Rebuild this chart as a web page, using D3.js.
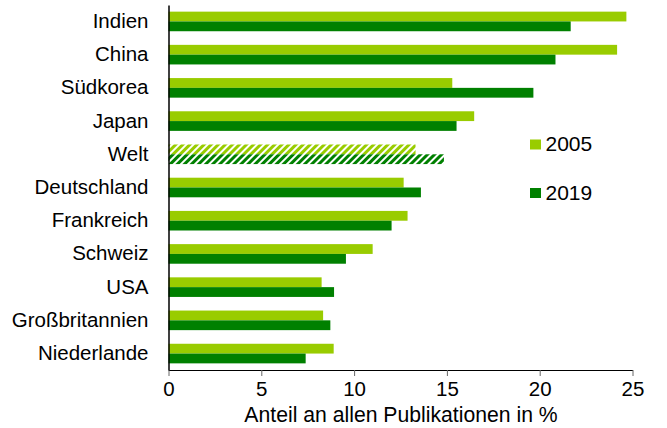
<!DOCTYPE html>
<html><head><meta charset="utf-8">
<script src="https://cdn.jsdelivr.net/npm/d3@7"></script>
<style>body{margin:0;background:#fff}svg{display:block;font-family:"Liberation Sans",Arial,sans-serif}</style>
</head><body><svg id="c" width="667" height="428"></svg>
<script>
const categories = ["Indien","China","Südkorea","Japan","Welt","Deutschland","Frankreich","Schweiz","USA","Großbritannien","Niederlande"];
const values2005 = [24.67,24.17,15.29,16.47,13.31,12.67,12.88,11.00,8.25,8.33,8.90];
const values2019 = [21.67,20.85,19.66,15.52,14.84,13.60,12.02,9.56,8.92,8.72,7.39];
const seriesNames = ["2005","2019"];
const xTicks = [0,5,10,15,20,25];
const hatched = ["Welt"];
const colors = ["#99cc00","#008000"];
const FS = 20.5;
const FF = "Liberation Sans, Arial, sans-serif";

const svg = d3.select("#c");
const defs = svg.append("defs");
colors.forEach((c,i)=>{
  const p = defs.append("pattern").attr("id","hatch"+i).attr("patternUnits","userSpaceOnUse")
    .attr("width",5).attr("height",5).attr("patternTransform","rotate(45)");
  p.append("rect").attr("width",5).attr("height",5).attr("fill","#fff");
  p.append("rect").attr("width",3).attr("height",5).attr("fill",c);
});

const x = d3.scaleLinear().domain([0,25]).range([168.5,632.5]);
const y = d3.scaleBand().domain(categories).range([5,370]).paddingInner(0.41).paddingOuter(0.2);
const y1 = d3.scaleBand().domain(seriesNames).range([0,y.bandwidth()]);

const data = categories.map((c,i)=>({cat:c, vals:[values2005[i],values2019[i]]}));
const g = svg.append("g");
data.forEach(d=>{
  d.vals.forEach((v,j)=>{
    g.append("rect")
      .attr("x",x(0)).attr("y",y(d.cat)+y1(seriesNames[j]))
      .attr("width",x(v)-x(0)).attr("height",y1.bandwidth())
      .attr("fill", hatched.includes(d.cat) ? `url(#hatch${j})` : colors[j]);
  });
});

// x axis
const xa = svg.append("g").attr("transform","translate(0,370)")
  .call(d3.axisBottom(x).tickValues(xTicks).tickSize(6).tickPadding(5).tickSizeOuter(0));
xa.attr("font-family",FF).attr("font-size",FS);
xa.select(".domain").attr("stroke","#000").attr("stroke-width",1.2);
xa.selectAll(".tick line").attr("stroke","#666");
xa.selectAll("text").attr("fill","#000");

// y axis
const ya = svg.append("g").attr("transform",`translate(${x(0)},0)`)
  .call(d3.axisLeft(y).tickSize(0).tickPadding(20));
ya.attr("font-family",FF).attr("font-size",FS);
ya.select(".domain").attr("stroke","#000").attr("stroke-width",1.5);
ya.selectAll("text").attr("fill","#000");

svg.append("text").attr("x",401).attr("y",422).attr("text-anchor","middle")
  .attr("font-family",FF).attr("font-size",21.2).text("Anteil an allen Publikationen in %");

// legend
const leg = svg.append("g").attr("font-family",FF).attr("font-size",21);
seriesNames.forEach((s,i)=>{
  const ly = 139.5 + i*48.5;
  leg.append("rect").attr("x",530).attr("y",ly).attr("width",11).attr("height",10).attr("fill",colors[i]);
  leg.append("text").attr("x",545.5).attr("y",ly+11.5).text(s);
});
</script></body></html>
